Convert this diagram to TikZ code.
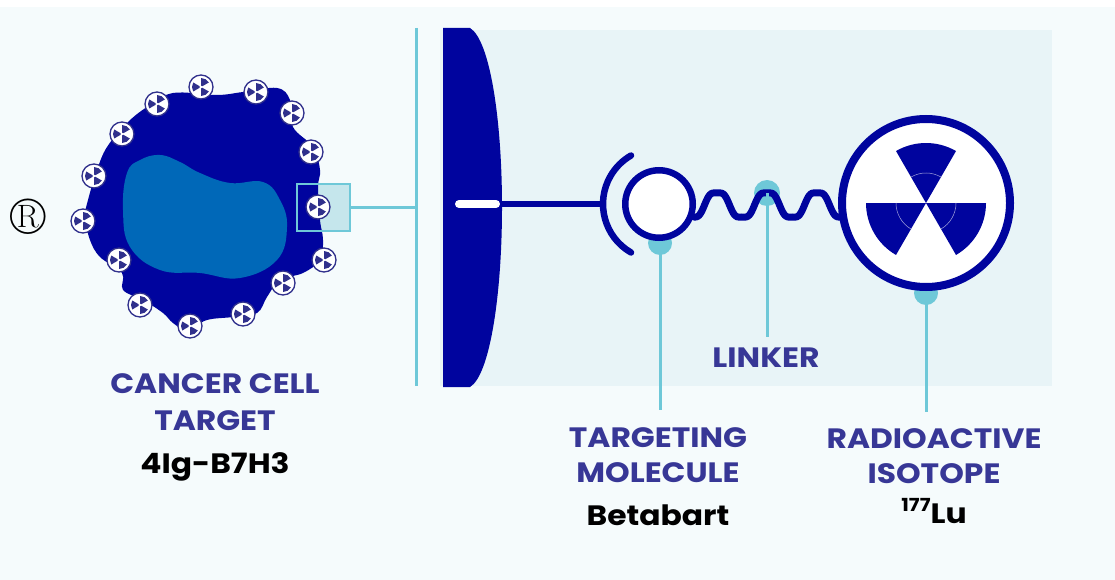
\documentclass[tikz,border=0pt]{standalone}
\usepackage{fontspec}
\newfontfamily\labelfont{Poppins}[FakeStretch=1.12]

\definecolor{cellnavy}{RGB}{0,4,158}
\definecolor{nucleusblue}{RGB}{0,104,184}
\definecolor{labelpurple}{RGB}{55,55,150}
\definecolor{tealline}{RGB}{110,200,216}
\definecolor{pagebg}{RGB}{245,251,252}
\definecolor{panelbg}{RGB}{232,244,247}
\definecolor{boxfill}{RGB}{197,230,236}
\definecolor{badgeink}{RGB}{48,48,140}
\definecolor{ringlilac}{RGB}{165,165,220}

\begin{document}
\begin{tikzpicture}[x=1pt, y=-1pt,
	heading/.style={font=\labelfont\bfseries\fontsize{28}{28}\selectfont, text=labelpurple, inner sep=0pt, anchor=base},
	drugname/.style={font=\labelfont\bfseries\fontsize{28}{28}\selectfont, text=black, inner sep=0pt, anchor=base},
	pointer/.style={draw=tealline, line width=3pt},
	navyline/.style={draw=cellnavy, line width=6.5pt, line cap=round},
	radbadge/.pic={
		\filldraw[fill=white, draw=badgeink, line width=1.3pt] (0,0) circle[radius=12];
		\foreach \a in {30,150,270}
			\fill[badgeink] (\a:1.5) -- (\a:9) arc[start angle=\a, end angle=\a+60, radius=9] -- (\a+60:1.5) -- cycle;
	}]
	\useasboundingbox (0,0) rectangle (1115,580);
	\fill[white] (0,0) rectangle (1115,580);
	\fill[pagebg] (0,7) rectangle (1115,580);
	
	%%% Клетка
	
	% Рамка увеличения (заливка под клеткой)
	\fill[boxfill] (297,184) rectangle (350,231);
	
	% Тело клетки
	\fill[cellnavy] plot[smooth cycle, tension=0.6] coordinates {
		(173,93) (217,95) (243,92) (277,88) (290,100) (293,127) (313,147) (320,170)
		(318,187) (320,220) (323,240) (320,260) (303,273) (280,280) (267,297) (257,313)
		(233,317) (207,320) (187,330) (173,323) (163,313) (143,300) (123,290) (122,273)
		(100,257) (90,240) (85,217) (88,200) (97,170) (107,147) (127,123) (147,107)};
	
	% Ядро
	\fill[nucleusblue] plot[smooth cycle, tension=0.7] coordinates {
		(140,160) (160,155) (180,162) (200,173) (230,183) (263,182) (280,200) (287,227)
		(277,260) (240,278) (200,273) (160,270) (130,247) (123,210) (127,173)};
	
	% Значки на поверхности
	\pic at (201,87) {radbadge};
	\pic at (256,92) {radbadge};
	\pic at (157,104) {radbadge};
	\pic at (292,113) {radbadge};
	\pic at (122,134) {radbadge};
	\pic at (311,152) {radbadge};
	\pic at (94,176) {radbadge};
	\pic at (83,221) {radbadge};
	\pic at (318,207) {radbadge};
	\pic at (324,260) {radbadge};
	\pic at (119,260) {radbadge};
	\pic at (283,283) {radbadge};
	\pic at (140,305) {radbadge};
	\pic at (243,314) {radbadge};
	\pic at (190,326) {radbadge};
	
	\node[draw=tealline, line width=2.5pt, minimum width=53pt, minimum height=47pt, inner sep=0pt] (zoombox) at (323.5,207.5) {};
	
	\node (regmark) at (28,217) {\fontsize{52}{52}\selectfont\textregistered};
	
	% Выноска к увеличенной части
	\coordinate (bartop) at (416,28);
	\coordinate (barbot) at (416,386);
	\draw[pointer] (bartop) -- (barbot);
	\draw[pointer] (zoombox.east) -- (zoombox.east -| bartop);
	
	%%% Увеличенная часть
	
	\fill[panelbg] (440,30) rectangle (1052,386);
	
	% Мембрана
	\fill[cellnavy] (443,28) -- (470,28) .. controls (490,40) and (502,120) .. (502,207)
		.. controls (502,294) and (490,375) .. (470,387) -- (443,387) -- cycle;
	\draw[white, line width=8pt, line cap=round] (459,204) -- (496,204);
	\draw[navyline, line cap=butt] (500,204) -- (604,204);
	
	% Точки выносок
	\coordinate (tmdot) at (660,243);
	\coordinate (linkdot) at (767,193);
	\coordinate (isodot) at (926,293);
	\fill[tealline] (tmdot) circle[radius=12];
	\fill[tealline] (linkdot) circle[radius=13];
	\fill[tealline] (isodot) circle[radius=12];
	
	% Линкер
	\draw[navyline, line width=7pt] plot[domain=694:840, samples=120, smooth]
		(\x, {205 + 12*(1.15*cos(7.2*(\x-692)) - 0.15*cos(21.6*(\x-692)))});
	
	% Нацеливающая молекула
	\node[circle, draw=cellnavy, fill=white, line width=6.5pt, minimum size=67.5pt, inner sep=0pt] (tmol) at (659,204) {};
	\draw[navyline] (tmol.center) ++(120:56) arc[start angle=120, end angle=240, radius=56];
	
	% Радиоактивный изотоп
	\node[circle, draw=cellnavy, fill=white, line width=8pt, minimum size=168pt, inner sep=0pt] (isotope) at (926,203) {};
	\foreach \a in {0,120,240} {
		\fill[cellnavy] (isotope.center) -- ++(\a:60) arc[start angle=\a, end angle=\a+60, radius=60] -- cycle;
		\draw[ringlilac, line width=0.5pt] (isotope.center) ++(\a:30) arc[start angle=\a, end angle=\a+60, radius=30];
	}
	
	%%% Подписи
	
	\node[heading] (cancerA) at (215,393) {CANCER CELL};
	\node[heading] (cancerB) at (215,430) {TARGET};
	\node[drugname] (cancername) at (215,473) {4Ig-B7H3};
	
	\node[heading] (linker) at (766,367) {LINKER};
	
	\node[heading] (tmolA) at (658,447) {TARGETING};
	\node[heading] (tmolB) at (658,482) {MOLECULE};
	\node[drugname] (tmolname) at (658,525) {Betabart};
	
	\node[heading] (isoA) at (934,448) {RADIOACTIVE};
	\node[heading] (isoB) at (934,483) {ISOTOPE};
	\node[drugname] (isoname) at (934,523) {\raisebox{12pt}{\fontsize{18}{18}\selectfont 177}Lu};
	
	% Выноски
	\draw[pointer, shorten >=17pt] (tmdot) -- (tmdot |- tmolA.north);
	\draw[pointer, shorten >=10pt] (linkdot) -- (linkdot |- linker.north);
	\draw[pointer, shorten >=16pt] (isodot) -- (isodot |- isoA.north);
\end{tikzpicture}
\end{document}
